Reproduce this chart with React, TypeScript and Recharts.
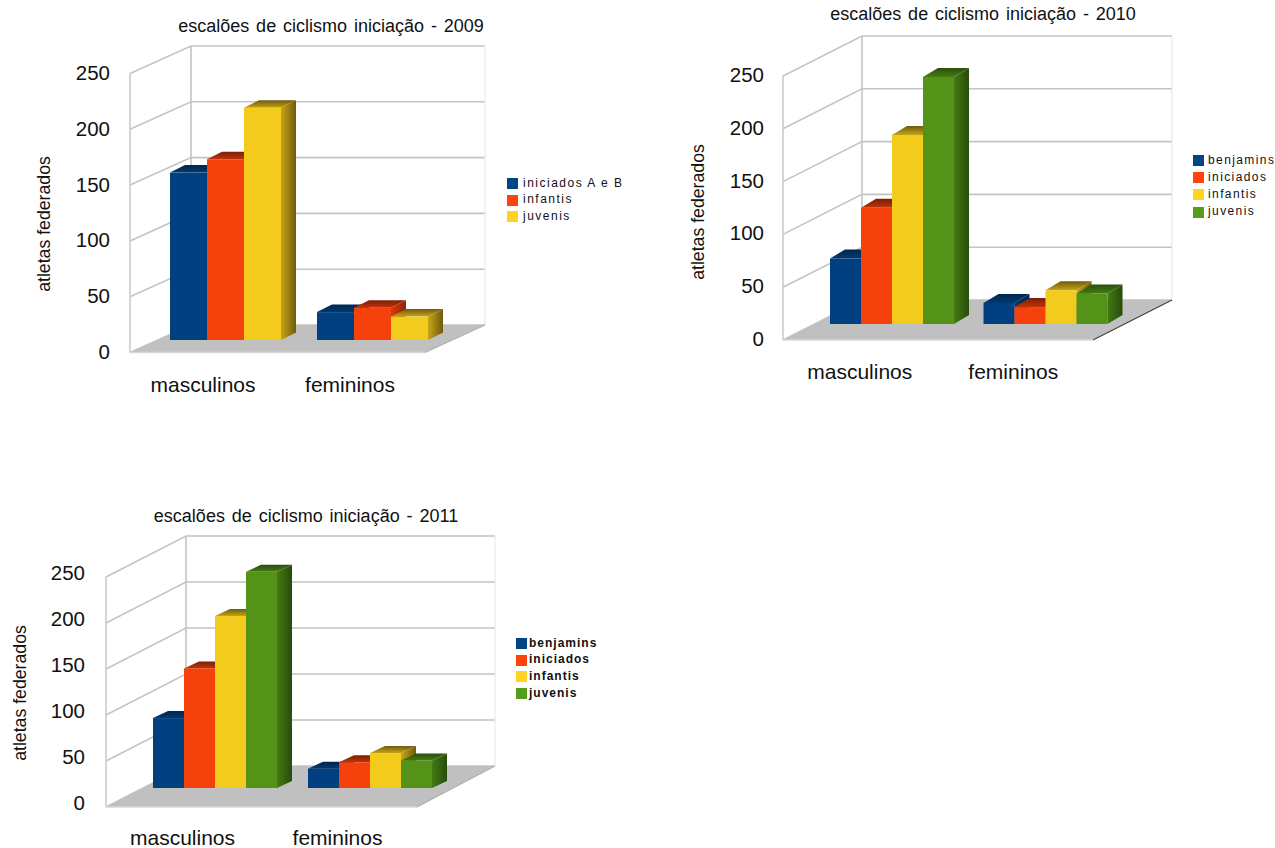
import React from 'react';
import { BarChart, Bar, XAxis, YAxis, CartesianGrid, Legend } from 'recharts';

const categories = ['masculinos', 'femininos'];
const yTicks = [0, 50, 100, 150, 200, 250];

const names2009 = ['iniciados A e B', 'infantis', 'juvenis'];
const values2009 = [[150, 25], [162, 29], [208, 21]];
const colors2009 = ['#004586', '#ff420e', '#ffd320'];

const names2010 = ['benjamins', 'iniciados', 'infantis', 'juvenis'];
const values2010 = [[62, 20], [110, 16], [179, 32], [234, 29]];
const values2011 = [[76, 21], [130, 28], [187, 38], [235, 30]];
const colors4 = ['#004586', '#ff420e', '#ffd320', '#579d1c'];

// face, side light, side dark, top light, top dark
const shades: any = {
  '#004586': ['#004080', '#003a74', '#00264e', '#003a70', '#002650'],
  '#ff420e': ['#f5420d', '#d9380a', '#8f2406', '#c0330a', '#7a1f05'],
  '#ffd320': ['#f2cb1d', '#c8a518', '#6f5a0c', '#c4a418', '#6f5a0c'],
  '#579d1c': ['#559218', '#437a14', '#274c0a', '#437a14', '#2a4e0c'],
};

const FONT = '"Liberation Sans", Arial, sans-serif';

const makeRows = (names: string[], values: number[][]) =>
  categories.map((c, i) => {
    const row: any = { category: c };
    names.forEach((n, j) => {
      row[n] = values[j][i];
    });
    return row;
  });

const Box3D = (props: any) => {
  const { x, y, width: w, height: h, fill, dx, dy } = props;
  const k = fill.slice(1);
  return (
    <g>
      <polygon
        points={`${x + w},${y} ${x + w + dx},${y - dy} ${x + w + dx},${y + h - dy} ${x + w},${y + h}`}
        fill={`url(#side-${k})`}
      />
      <polygon
        points={`${x},${y} ${x + dx},${y - dy} ${x + w + dx},${y - dy} ${x + w},${y}`}
        fill={`url(#top-${k})`}
      />
      <rect x={x} y={y} width={w} height={h} fill={shades[fill][0]} />
    </g>
  );
};

function Chart3D({ cfg }: any) {
  const { names, values, colors } = cfg;
  const rows = makeRows(names, values);
  const right = cfg.frame.w - cfg.plotX - cfg.plotW;
  const bottom = cfg.frame.h - cfg.base;
  const gridColor = '#c4c4c4';

  return (
    <div style={{ position: 'absolute', left: cfg.frame.x, top: cfg.frame.y }}>
      <BarChart
        width={cfg.frame.w}
        height={cfg.frame.h}
        data={rows}
        // the two axes take 1px each, they draw nothing at size 0
        margin={{ left: cfg.plotX - 1, top: cfg.base - cfg.plotH, right, bottom: bottom - 1 }}
        barGap={0}
        barCategoryGap={cfg.gap}
      >
        <defs>
          {colors.map((c: string) => (
            <React.Fragment key={c}>
              <linearGradient id={`side-${c.slice(1)}`} x1="0" y1="0" x2="1" y2="0">
                <stop offset="0%" stopColor={shades[c][1]} />
                <stop offset="100%" stopColor={shades[c][2]} />
              </linearGradient>
              <linearGradient id={`top-${c.slice(1)}`} x1="0" y1="1" x2="0" y2="0">
                <stop offset="0%" stopColor={shades[c][3]} />
                <stop offset="100%" stopColor={shades[c][4]} />
              </linearGradient>
            </React.Fragment>
          ))}
        </defs>
        <CartesianGrid
          vertical={false}
          horizontal={(p: any) => {
            const back = p.y1 - cfg.backOff;
            const front = p.y1 + cfg.frontOff;
            return (
              <polyline
                key={p.key}
                points={`${cfg.frontX},${front} ${cfg.backX},${back} ${cfg.rightX},${back}`}
                fill="none"
                stroke={gridColor}
                strokeWidth={1.6}
              />
            );
          }}
        />
        <line x1={cfg.frontX} x2={cfg.frontX} y1={cfg.base - cfg.plotH + cfg.frontOff} y2={cfg.base + cfg.frontOff} stroke={gridColor} strokeWidth={1.4} />
        <line x1={cfg.backX} x2={cfg.backX} y1={cfg.base - cfg.plotH - cfg.backOff} y2={cfg.base - cfg.backOff} stroke={gridColor} strokeWidth={1.6} />
        <line x1={cfg.rightX} x2={cfg.rightX} y1={cfg.base - cfg.plotH - cfg.backOff} y2={cfg.base - cfg.backOff} stroke="#e6e6e6" strokeWidth={1} />
        <polygon
          points={`${cfg.frontX},${cfg.base + cfg.frontOff} ${cfg.backX},${cfg.base - cfg.backOff} ${cfg.rightX},${cfg.base - cfg.backOff} ${cfg.frontRight},${cfg.base + cfg.frontOff}`}
          fill="#c0c0c0"
        />
        <line x1={cfg.frontRight} y1={cfg.base + cfg.frontOff} x2={cfg.rightX} y2={cfg.base - cfg.backOff} stroke={cfg.edge} strokeWidth={1.2} />
        <line x1={cfg.frontX} y1={cfg.base + cfg.frontOff} x2={cfg.frontRight} y2={cfg.base + cfg.frontOff} stroke="#d8d8d8" strokeWidth={1.4} />
        <XAxis
          dataKey="category"
          height={1}
          interval={0}
          axisLine={false}
          tickLine={false}
          tick={(p: any) => (
            <text x={p.x + cfg.labelDx} y={cfg.labelY} textAnchor="middle" fontFamily={FONT} fontSize={21} fill="#111">
              {p.payload.value}
            </text>
          )}
        />
        <YAxis
          width={1}
          interval={0}
          domain={[0, 250]}
          ticks={yTicks}
          axisLine={false}
          tickLine={false}
          tick={(p: any) => (
            <text x={cfg.tickX} y={p.y + cfg.frontOff + cfg.tickDy} textAnchor="end" dominantBaseline="central" fontFamily={FONT} fontSize={20.5} fill="#111">
              {p.payload.value}
            </text>
          )}
        />
        {names.map((n: string, i: number) => (
          <Bar
            key={n}
            dataKey={n}
            fill={colors[i]}
            isAnimationActive={false}
            shape={(p: any) => <Box3D {...p} dx={cfg.dx} dy={cfg.dy} />}
          />
        ))}
        <Legend
          layout="vertical"
          align="center"
          verticalAlign="middle"
          iconType="square"
          iconSize={11}
          itemSorter={null}
          wrapperStyle={{
            left: cfg.legendX,
            top: cfg.legendY,
            width: 140,
            fontFamily: FONT,
            fontSize: 12,
            fontWeight: cfg.legendWeight,
            lineHeight: `${cfg.legendLine}px`,
            letterSpacing: cfg.legendSpacing,
          }}
          formatter={(v: any) => <span style={{ color: '#111', marginLeft: cfg.legendGap }}>{v}</span>}
        />
        <text x={cfg.titleX} y={cfg.titleY} textAnchor="middle" dominantBaseline="central" fontFamily={FONT} fontSize={18} wordSpacing={1.9} fill="#111">
          {cfg.title}
        </text>
        <text
          transform={`translate(${cfg.yTitleX},${cfg.yTitleY}) rotate(-90)`}
          textAnchor="middle"
          dominantBaseline="central"
          fontFamily={FONT}
          fontSize={17.7}
          fill="#111"
        >
          atletas federados
        </text>
      </BarChart>
    </div>
  );
}

const chart2009 = {
  names: names2009, values: values2009, colors: colors2009,
  title: 'escalões de ciclismo iniciação - 2009',
  frame: { x: 0, y: 0, w: 640, h: 420 },
  plotX: 152.5, plotW: 294, plotH: 279, base: 340, gap: 17.5,
  backOff: 15, frontOff: 12.5, frontX: 130, backX: 191, rightX: 485, frontRight: 425,
  dx: 15, dy: 7.5, edge: '#b0b0b0',
  tickX: 110, tickDy: -1, labelDx: -23, labelY: 392,
  titleX: 331, titleY: 26, yTitleX: 44, yTitleY: 224,
  legendX: 507, legendY: 174.5, legendLine: 16.7, legendSpacing: '1.5px', legendWeight: 'normal', legendGap: 1,
};

const chart2010 = {
  names: names2010, values: values2010, colors: colors4,
  title: 'escalões de ciclismo iniciação - 2010',
  frame: { x: 640, y: 0, w: 635, h: 420 },
  plotX: 175, plotW: 307, plotH: 264, base: 324, gap: 15,
  backOff: 24, frontOff: 16, frontX: 143, backX: 222, rightX: 532, frontRight: 453,
  dx: 15, dy: 9, edge: '#444',
  tickX: 124, tickDy: -1.5, labelDx: -32, labelY: 379,
  titleX: 343, titleY: 14, yTitleX: 58, yTitleY: 212,
  legendX: 553, legendY: 151.5, legendLine: 17.3, legendSpacing: '1.4px', legendWeight: 'normal', legendGap: 0,
};

const chart2011 = {
  names: names2010, values: values2011, colors: colors4,
  title: 'escalões de ciclismo iniciação - 2011',
  frame: { x: 0, y: 490, w: 640, h: 358 },
  plotX: 138, plotW: 310, plotH: 230, base: 298, gap: 15,
  backOff: 22, frontOff: 19, frontX: 106, backX: 186, rightX: 495, frontRight: 417,
  dx: 15, dy: 7, edge: '#b0b0b0',
  tickX: 85, tickDy: -5, labelDx: -33, labelY: 355,
  titleX: 306, titleY: 26, yTitleX: 20, yTitleY: 203,
  legendX: 516, legendY: 144.5, legendLine: 16.7, legendSpacing: '1px', legendWeight: 'bold', legendGap: -2,
};

export default function App() {
  return (
    <div style={{ position: 'absolute', left: 0, top: 0, width: 1275, height: 848, overflow: 'hidden' }}>
      <Chart3D cfg={chart2009} />
      <Chart3D cfg={chart2010} />
      <Chart3D cfg={chart2011} />
    </div>
  );
}
